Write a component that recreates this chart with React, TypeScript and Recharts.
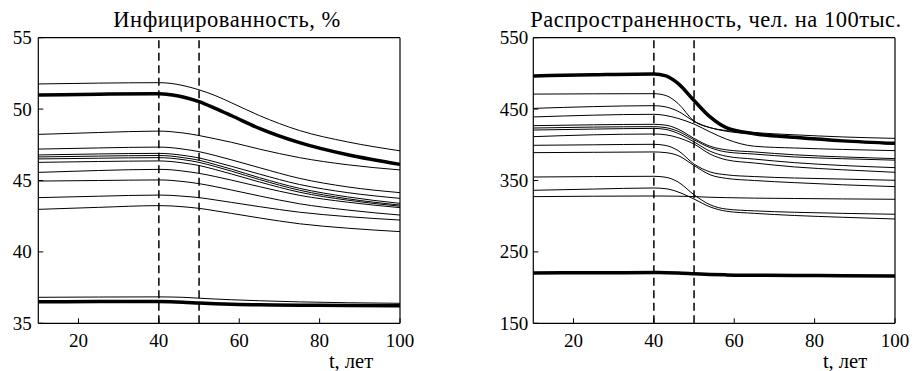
import { LineChart, Line, XAxis, YAxis, ReferenceLine } from "recharts";

const years = [10, 25, 40, 43, 46, 50, 54, 58, 65, 75, 87, 100];
const xTicks = [20, 40, 60, 80, 100];

// Инфицированность, %
const infTicks = [35, 40, 45, 50, 55];
const inf01 = [51.76, 51.82, 51.85, 51.8, 51.65, 51.35, 50.95, 50.45, 49.55, 48.5, 47.7, 47.08];
const infBold1 = [50.99, 51.04, 51.08, 51.0, 50.85, 50.52, 50.05, 49.55, 48.65, 47.65, 46.8, 46.13];
const inf02 = [48.23, 48.36, 48.46, 48.42, 48.33, 48.15, 47.92, 47.68, 47.2, 46.6, 46.1, 45.74];
const inf03 = [47.2, 47.28, 47.34, 47.3, 47.2, 47.02, 46.75, 46.45, 45.9, 45.15, 44.55, 44.15];
const inf04 = [46.79, 46.86, 46.9, 46.86, 46.76, 46.58, 46.3, 46.0, 45.45, 44.72, 44.15, 43.75];
const inf05 = [46.65, 46.71, 46.75, 46.71, 46.6, 46.42, 46.12, 45.8, 45.2, 44.45, 43.85, 43.4];
const inf06 = [46.51, 46.56, 46.6, 46.56, 46.46, 46.27, 45.98, 45.66, 45.07, 44.32, 43.72, 43.28];
const inf07 = [46.27, 46.33, 46.37, 46.33, 46.23, 46.05, 45.77, 45.46, 44.9, 44.18, 43.62, 43.2];
const inf08 = [45.57, 45.7, 45.78, 45.75, 45.66, 45.5, 45.28, 45.03, 44.57, 43.96, 43.48, 43.1];
const inf09 = [44.96, 45.0, 45.04, 45.01, 44.93, 44.78, 44.57, 44.34, 43.92, 43.37, 42.93, 42.58];
const inf10 = [43.8, 43.9, 43.98, 43.96, 43.9, 43.8, 43.64, 43.47, 43.17, 42.78, 42.47, 42.23];
const inf11 = [42.98, 43.12, 43.24, 43.22, 43.16, 43.05, 42.88, 42.7, 42.38, 41.97, 41.66, 41.42];
const inf12 = [36.82, 36.84, 36.85, 36.84, 36.82, 36.76, 36.7, 36.65, 36.58, 36.5, 36.44, 36.4];
const infBold2 = [36.51, 36.52, 36.52, 36.51, 36.48, 36.42, 36.37, 36.33, 36.3, 36.27, 36.24, 36.22];

// Распространенность, чел. на 100тыс.
const prevTicks = [150, 250, 350, 450, 550];
const prevBold1 = [496.5, 498, 499, 496.5, 486, 462, 439, 424, 415.5, 410.5, 405.5, 402];
const prev01 = [471, 471.4, 471.6, 469, 458, 433, 424, 419, 415, 410, 405, 400.5];
const prev02 = [451, 453.5, 454.8, 453, 447, 433, 424, 420, 417, 414, 411, 409];
const prev03 = [439, 441.5, 442.7, 441, 437, 429, 418, 408, 398, 395.5, 393.5, 391.8];
const prev04 = [426.8, 428, 428.7, 427.5, 422, 409, 398, 393, 390, 386, 383, 380.6];
const prev05 = [423.5, 424.8, 425.4, 424, 419, 407, 396, 390, 387, 383, 380.5, 378.5];
const prev06 = [420.7, 422, 423, 421.5, 416, 404, 391, 384, 380, 375, 371, 368];
const prev07 = [411.4, 414, 415.1, 414, 410, 401, 387, 379, 374.5, 369, 365, 361.5];
const prev08 = [399.3, 400, 400.7, 399, 392, 373, 362, 358, 355.5, 353.5, 352, 350.3];
const prev09 = [389, 389.5, 390, 389, 385, 371, 358, 353, 350, 347, 344, 341.4];
const prev10 = [354.9, 355.5, 355.9, 354.5, 348, 330, 316, 310, 307.5, 305.5, 304, 302.7];
const prev11 = [336.3, 338, 339.5, 338.5, 334, 324, 313, 307, 304, 301, 298.5, 296.1];
const prev12 = [327.4, 328, 328.3, 328.2, 328, 327.5, 326.5, 326, 325.3, 324.8, 324.2, 323.7];
const prevBold2 = [220.5, 220.8, 221, 220.9, 220.5, 219.5, 218.5, 217.8, 217.3, 217, 216.6, 216.3];

type Series = { key: string; values: number[]; bold?: boolean };

const infSeries: Series[] = [
  { key: "inf01", values: inf01 },
  { key: "inf02", values: inf02 },
  { key: "inf03", values: inf03 },
  { key: "inf04", values: inf04 },
  { key: "inf05", values: inf05 },
  { key: "inf06", values: inf06 },
  { key: "inf07", values: inf07 },
  { key: "inf08", values: inf08 },
  { key: "inf09", values: inf09 },
  { key: "inf10", values: inf10 },
  { key: "inf11", values: inf11 },
  { key: "inf12", values: inf12 },
  { key: "infBold1", values: infBold1, bold: true },
  { key: "infBold2", values: infBold2, bold: true },
];

const prevSeries: Series[] = [
  { key: "prev01", values: prev01 },
  { key: "prev02", values: prev02 },
  { key: "prev03", values: prev03 },
  { key: "prev04", values: prev04 },
  { key: "prev05", values: prev05 },
  { key: "prev06", values: prev06 },
  { key: "prev07", values: prev07 },
  { key: "prev08", values: prev08 },
  { key: "prev09", values: prev09 },
  { key: "prev10", values: prev10 },
  { key: "prev11", values: prev11 },
  { key: "prev12", values: prev12 },
  { key: "prevBold1", values: prevBold1, bold: true },
  { key: "prevBold2", values: prevBold2, bold: true },
];

const FONT = "'Times New Roman', 'Liberation Serif', Tinos, FreeSerif";

function toRows(series: Series[]) {
  return years.map((t, i) => {
    const row: Record<string, number> = { t };
    series.forEach((s) => {
      row[s.key] = s.values[i];
    });
    return row;
  });
}

const bottomTick = (props: any) => (
  <text
    x={props.x}
    y={props.y}
    dy="0.71em"
    textAnchor="middle"
    fill="#000"
    fontFamily={FONT}
    fontSize={19}
    style={{ fontFamily: FONT }}
  >
    {props.payload.value}
  </text>
);

const leftTick = (props: any) => (
  <text
    x={props.x}
    y={props.y}
    dy="0.34em"
    textAnchor="end"
    fill="#000"
    fontFamily={FONT}
    fontSize={19}
    style={{ fontFamily: FONT }}
  >
    {props.payload.value}
  </text>
);

function Panel({ series, yDomain, yTicks, left, width, marginLeft, marginRight, yGap }: any) {
  const rows = toRows(series);
  return (
    <div style={{ position: "absolute", left, top: 0, fontFamily: FONT }}>
      <LineChart
        width={width}
        height={371}
        data={rows}
        style={{ fontFamily: FONT }}
        margin={{ top: 36.7, right: marginRight, bottom: 17.7, left: marginLeft }}
      >
        <XAxis
          xAxisId="b"
          dataKey="t"
          type="number"
          domain={[10, 100]}
          ticks={xTicks}
          interval={0}
          height={30}
          tickSize={-5}
          tickMargin={15}
          tick={bottomTick}
          axisLine={{ stroke: "#000", strokeWidth: 1.2 }}
          tickLine={{ stroke: "#000" }}
        />
        <XAxis
          xAxisId="t"
          orientation="top"
          dataKey="t"
          type="number"
          domain={[10, 100]}
          ticks={xTicks}
          interval={0}
          height={1}
          tickSize={-5}
          tick={false}
          axisLine={{ stroke: "#000", strokeWidth: 1.2 }}
          tickLine={{ stroke: "#000" }}
        />
        <YAxis
          yAxisId="l"
          type="number"
          domain={yDomain}
          ticks={yTicks}
          interval={0}
          width={30}
          tickSize={-5}
          tickMargin={yGap + 5}
          tick={leftTick}
          axisLine={{ stroke: "#000", strokeWidth: 1.2 }}
          tickLine={{ stroke: "#000" }}
        />
        <YAxis
          yAxisId="r"
          orientation="right"
          type="number"
          domain={yDomain}
          ticks={yTicks}
          interval={0}
          width={1}
          tickSize={-5}
          tick={false}
          axisLine={{ stroke: "#000", strokeWidth: 1.2 }}
          tickLine={{ stroke: "#000" }}
        />
        {series.map((s: Series) => (
          <Line
            key={s.key}
            xAxisId="b"
            yAxisId="l"
            dataKey={s.key}
            type="monotone"
            stroke="#000"
            strokeWidth={s.bold ? 3.5 : 1}
            dot={false}
            activeDot={false}
            isAnimationActive={false}
          />
        ))}
        <ReferenceLine xAxisId="b" yAxisId="l" x={40} stroke="#000" strokeWidth={1.5} strokeDasharray="8 4.5" />
        <ReferenceLine xAxisId="b" yAxisId="l" x={50} stroke="#000" strokeWidth={1.5} strokeDasharray="8 4.5" />
      </LineChart>
    </div>
  );
}

function Caption({ cx, top, size, spacing, children }: any) {
  return (
    <div
      style={{
        position: "absolute",
        left: cx - 250,
        top,
        width: 500,
        textAlign: "center",
        fontFamily: FONT,
        fontSize: size,
        lineHeight: `${size}px`,
        letterSpacing: spacing || 0,
        color: "#000",
        whiteSpace: "nowrap",
      }}
    >
      {children}
    </div>
  );
}

export default function App() {
  return (
    <div
      style={{
        position: "absolute",
        left: 0,
        top: 0,
        width: 913,
        height: 371,
        background: "#fff",
        fontFamily: FONT,
      }}
    >
      <Panel
        series={infSeries}
        yDomain={[35, 55]}
        yTicks={infTicks}
        left={0}
        width={460}
        marginLeft={8.3}
        marginRight={59}
        yGap={6.6}
      />
      <Panel
        series={prevSeries}
        yDomain={[150, 550]}
        yTicks={prevTicks}
        left={460}
        width={453}
        marginLeft={43.3}
        marginRight={17}
        yGap={5}
      />
      <Caption cx={227} top={8.5} size={22.5} spacing={0.5}>
        Инфицированность, %
      </Caption>
      <Caption cx={716} top={8.5} size={22.5} spacing={0.5}>
        Распространенность, чел. на 100тыс.
      </Caption>
      <Caption cx={351} top={350.8} size={20.5}>
        t, лет
      </Caption>
      <Caption cx={845} top={350.8} size={20.5}>
        t, лет
      </Caption>
    </div>
  );
}
